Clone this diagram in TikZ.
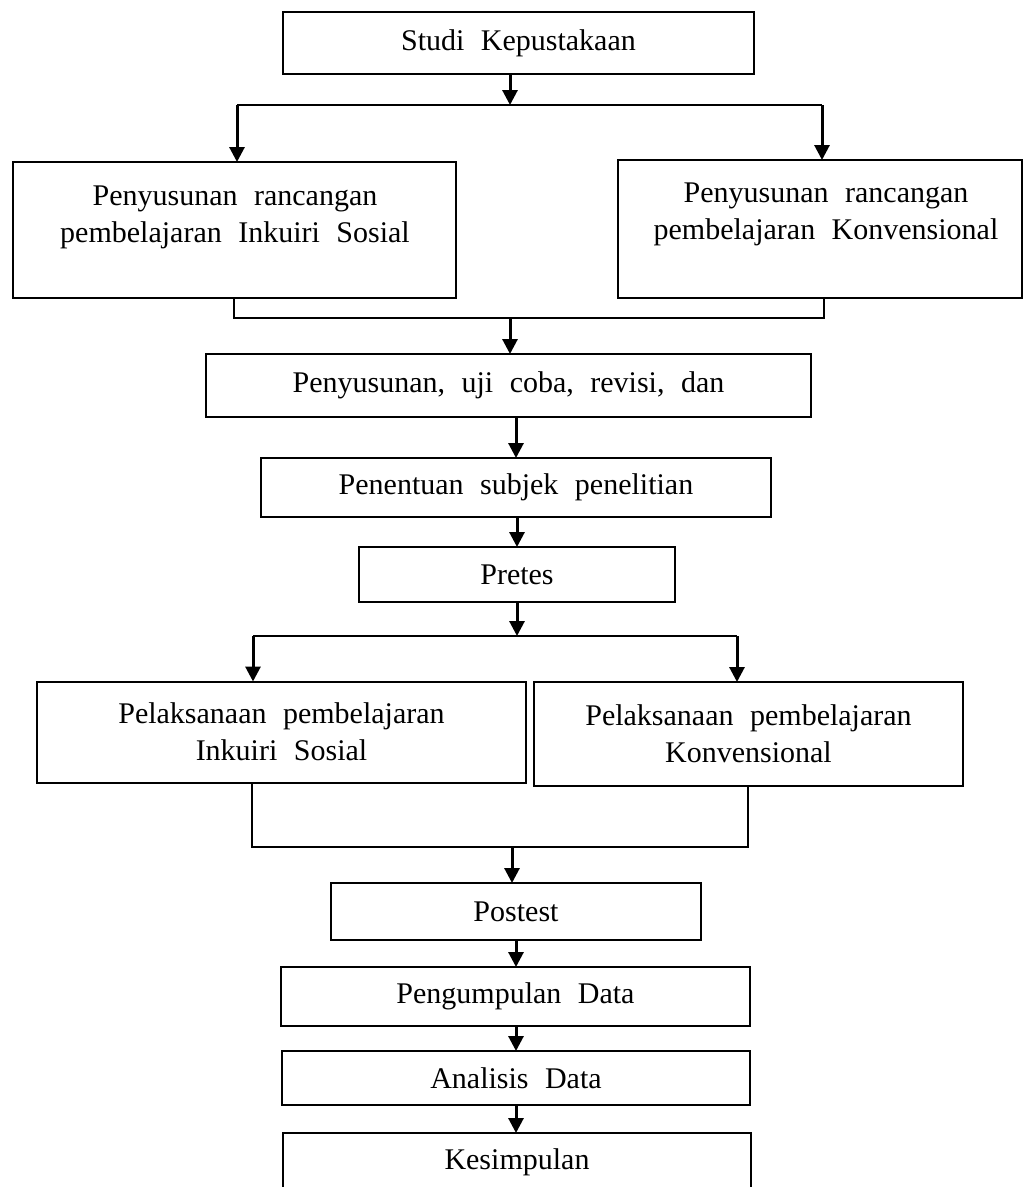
\documentclass[tikz,border=0pt]{standalone}
\usepackage{fontspec}
\setmainfont[WordSpace=2.2]{Liberation Serif}
\usetikzlibrary{arrows.meta}
\begin{document}
\begin{tikzpicture}[x=1pt,y=-1pt,
  box/.style={draw=black, line width=2pt, rectangle, inner sep=0pt, outer sep=0pt,
    align=center, font=\fontsize{30}{37}\selectfont},
  txt/.style={align=center, inner sep=0pt, font=\fontsize{30}{37}\selectfont},
  arr/.style={line width=3pt, -{Triangle[length=15pt,width=15pt]}},
  joinline/.style={line width=2pt}]
\useasboundingbox (0,0) rectangle (1024,1187);
\fill[white] (0,0) rectangle (1024,1187);
\clip (0,0) rectangle (1024,1187);

% boxes
\node[box, minimum width=471pt, minimum height=62pt] (b1) at (518.5,43) {Studi Kepustakaan};
\node[box, minimum width=443pt, minimum height=136pt] (b2) at (234.5,230) {};
\node[txt] (t2) at (235,217) {Penyusunan rancangan\\pembelajaran Inkuiri Sosial};
\node[box, minimum width=404pt, minimum height=138pt] (b3) at (820,229) {};
\node[txt] (t3) at (826,214) {Penyusunan rancangan\\pembelajaran Konvensional};
\node[box, minimum width=605pt, minimum height=63pt] (b4) at (508.5,385.5) {Penyusunan, uji coba, revisi, dan};
\node[box, minimum width=510pt, minimum height=59pt] (b5) at (516,487.5) {Penentuan subjek penelitian};
\node[box, minimum width=316pt, minimum height=55pt] (pre) at (517,574.5) {Pretes};
\node[box, minimum width=489pt, minimum height=101pt] (b7) at (281.5,732) {Pelaksanaan pembelajaran\\Inkuiri Sosial};
\node[box, minimum width=429pt, minimum height=104pt] (b8) at (748.5,734) {Pelaksanaan pembelajaran\\Konvensional};
\node[box, minimum width=370pt, minimum height=57pt] (post) at (516,911.5) {Postest};
\node[box, minimum width=469pt, minimum height=59pt] (b10) at (515.5,996.5) {Pengumpulan Data};
\node[box, minimum width=468pt, minimum height=54pt] (b11) at (516,1078) {Analisis Data};
\node[box, minimum width=468pt, minimum height=58pt] (b12) at (517,1162) {Kesimpulan};

% junction coordinates
\coordinate (j1) at (510,105);
\coordinate (jl1) at (237,105);
\coordinate (jr1) at (822,105);
\coordinate (j2) at (510,318);
\coordinate (j2l) at (234,318);
\coordinate (j2r) at (824,318);
\coordinate (j3) at (517,636);
\coordinate (jl3) at (253,636);
\coordinate (jr3) at (737,636);
\coordinate (j4) at (512,847);
\coordinate (j4l) at (252,847);
\coordinate (j4r) at (748,847);

% connectors
\draw[arr] (b1.south -| j1) -- (j1);
\draw[joinline] (jl1) -- (jr1);
\draw[arr] (jl1) -- (jl1 |- b2.north);
\draw[arr] (jr1) -- (jr1 |- b3.north);

\draw[joinline] (b2.south -| j2l) |- (j2r) -- (j2r |- b3.south);
\draw[arr] (j2) -- (j2 |- b4.north);

\draw[arr] (b4.south -| b5.north) -- (b5.north);
\draw[arr] (b5.south -| pre.north) -- (pre.north);
\draw[arr] (pre.south) -- (j3);
\draw[joinline] (jl3) -- (jr3);
\draw[arr] (jl3) -- (jl3 |- b7.north);
\draw[arr] (jr3) -- (jr3 |- b8.north);

\draw[joinline] (b7.south -| j4l) |- (j4r) -- (j4r |- b8.south);
\draw[arr] (j4) -- (j4 |- post.north);

\draw[arr] (post.south) -- (post.south |- b10.north);
\draw[arr] (b10.south -| post.south) -- (post.south |- b11.north);
\draw[arr] (b11.south -| post.south) -- (post.south |- b12.north);
\end{tikzpicture}
\end{document}
